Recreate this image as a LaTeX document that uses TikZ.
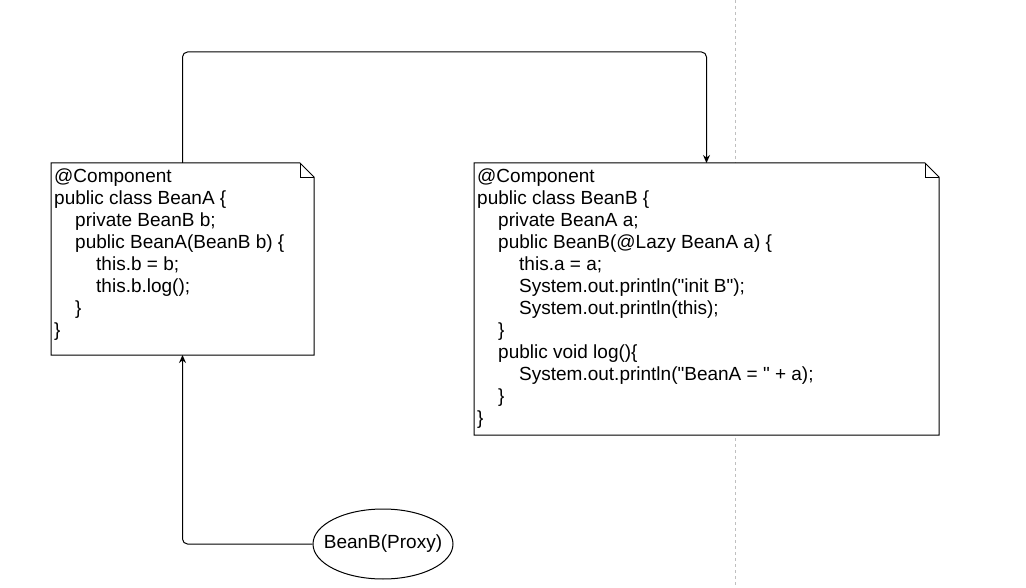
\documentclass[tikz,border=0pt]{standalone}
\usepackage{fontspec}
\setmainfont{Liberation Sans}[Ligatures=TeXOff]
\usepackage{tikz}
\usetikzlibrary{arrows.meta,shapes.geometric}
\newcommand{\codeindent}{\hspace*{21pt}}

\begin{document}
\begin{tikzpicture}[x=1pt, y=-1pt,
    notebox/.style={minimum width=#1, inner sep=0pt, outer sep=0pt},
    code/.style={anchor=north west, align=left, inner sep=0pt,
        font=\fontsize{19}{22}\selectfont},
    conn/.style={line width=1pt, rounded corners=5pt,
        -{Stealth[length=8pt, width=7pt]}}]
    \useasboundingbox (0,0) rectangle (1026,588);

    % guide line
    \draw[black!25, line width=1pt, dash pattern=on 3pt off 3pt] (735,0) -- (735,588);

    % notes
    \node[notebox=263pt, minimum height=192pt] (beanA) at (182.5,259) {};
    \node[notebox=465pt, minimum height=272pt] (beanB) at (706.5,299) {};
    \foreach \n in {beanA, beanB} {
        \draw[line width=1pt, line join=miter, fill=white]
            (\n.north west) -- ([xshift=-14pt]\n.north east)
            -- ([yshift=-14pt]\n.north east) -- (\n.south east)
            -- (\n.south west) -- cycle;
        \draw[line width=0.8pt]
            ([xshift=-14pt]\n.north east) -- ([xshift=-14pt, yshift=-14pt]\n.north east)
            -- ([yshift=-14pt]\n.north east);
    }

    \node[code] (codeA) at ([shift={(3,6)}]beanA.north west) {%
        @Component\\
        public class BeanA \{\\
        \codeindent private BeanB b;\\
        \codeindent public BeanA(BeanB b) \{\\
        \codeindent\codeindent this.b = b;\\
        \codeindent\codeindent this.b.log();\\
        \codeindent \}\\
        \}};
    \node[code] (codeB) at ([shift={(3,6)}]beanB.north west) {%
        @Component\\
        public class BeanB \{\\
        \codeindent private BeanA a;\\
        \codeindent public BeanB(@Lazy BeanA a) \{\\
        \codeindent\codeindent this.a = a;\\
        \codeindent\codeindent System.out.println("init B");\\
        \codeindent\codeindent System.out.println(this);\\
        \codeindent \}\\
        \codeindent public void log()\{\\
        \codeindent\codeindent System.out.println("BeanA = " + a);\\
        \codeindent \}\\
        \}};

    % proxy
    \node[draw, line width=1pt, ellipse, fill=white, minimum width=140pt, minimum height=70pt,
        inner sep=0pt, font=\fontsize{19}{22}\selectfont] (proxy) at (383,544)
        {\makebox[0pt]{BeanB(Proxy)}};

    % connectors
    \draw[conn] (beanA.north) -- ++(0,-111) -| (beanB.north);
    \draw[conn] (proxy.west) -| (beanA.south);
\end{tikzpicture}
\end{document}
